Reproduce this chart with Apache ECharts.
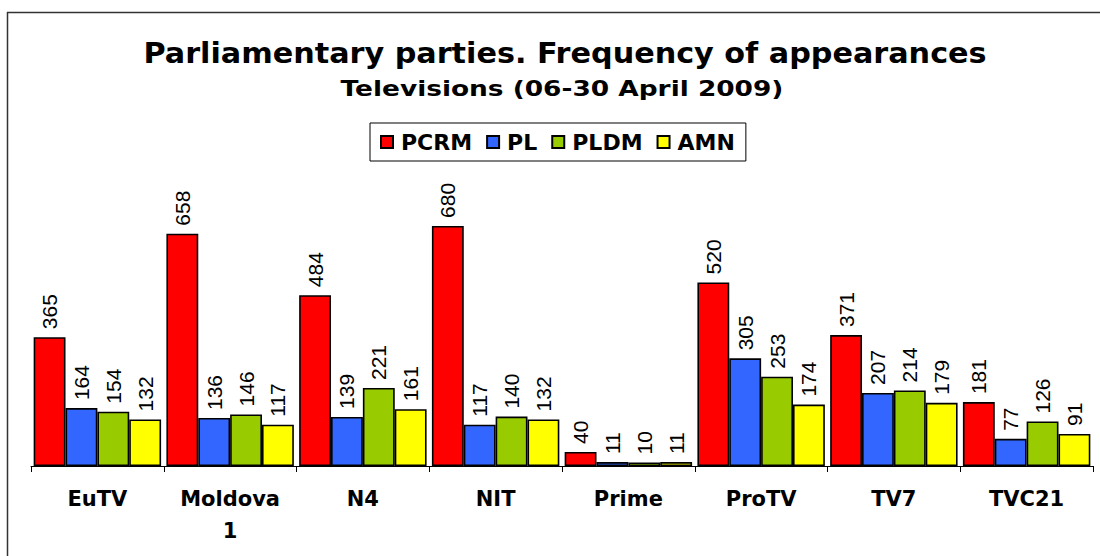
<!DOCTYPE html>
<html>
<head>
<meta charset="utf-8">
<script src="https://cdn.jsdelivr.net/npm/echarts@6/dist/echarts.min.js"></script>
<style>
  html, body { margin: 0; padding: 0; background: #fff; }
  #chart { width: 1100px; height: 556px; }
</style>
</head>
<body>
<div id="chart"></div>
<script>
const channels = ['EuTV', 'Moldova\n1', 'N4', 'NIT', 'Prime', 'ProTV', 'TV7', 'TVC21']
const parties = ['PCRM', 'PL', 'PLDM', 'AMN']
const colors = ['#ff0000', '#3366ff', '#99cc00', '#ffff00']

const pcrm = [365, 658, 484, 680, 40, 520, 371, 181]
const pl = [164, 136, 139, 117, 11, 305, 207, 77]
const pldm = [154, 146, 221, 140, 10, 253, 214, 126]
const amn = [132, 117, 161, 132, 11, 174, 179, 91]

const values = [pcrm, pl, pldm, amn]
const font = 'DejaVu Sans, Verdana, sans-serif'

// svg renderer: rotated bar labels come out right with it
const chart = echarts.init(document.getElementById('chart'), null, { renderer: 'svg' })

chart.setOption({
  animation: false,
  textStyle: { fontFamily: font },
  legend: {
    data: parties,
    top: 123,
    left: 370,
    itemWidth: 12,
    itemHeight: 12,
    itemGap: 14,
    padding: [8, 11, 8, 10],
    borderColor: '#000',
    borderWidth: 1,
    borderRadius: 0,
    icon: 'rect',
    textStyle: { fontFamily: font, fontSize: 22, fontWeight: 'bold', color: '#000', padding: [0, 0, 0, 3] }
  },
  grid: { left: 31, right: 7, top: 113, bottom: 90, containLabel: false },
  xAxis: {
    type: 'category',
    data: channels,
    axisLine: { lineStyle: { color: '#000', width: 1 } },
    axisTick: { show: true, length: 6, lineStyle: { color: '#000' } },
    axisLabel: {
      fontFamily: font, fontSize: 21, fontWeight: 'bold', color: '#000',
      margin: 17, lineHeight: 32, interval: 0
    }
  },
  yAxis: {
    type: 'value',
    min: 0,
    max: 1000,
    show: false,
    splitLine: { show: false }
  },
  series: parties.map((p, i) => ({
    name: p,
    type: 'bar',
    data: values[i],
    barGap: '0%',
    barCategoryGap: '4%',
    itemStyle: { color: colors[i], borderColor: '#000', borderWidth: 1.6 },
    label: {
      show: true,
      position: 'top',
      rotate: 90,
      align: 'left',
      verticalAlign: 'middle',
      distance: 8,
      fontFamily: 'Liberation Sans, Arial, sans-serif',
      fontSize: 21,
      color: '#000'
    }
  })),
  graphic: [
    { type: 'line', shape: { x1: 7.5, y1: 12, x2: 7.5, y2: 556 }, style: { stroke: '#333', lineWidth: 1.5 } },
    { type: 'line', shape: { x1: 7, y1: 12.5, x2: 1100, y2: 12.5 }, style: { stroke: '#333', lineWidth: 1.5 } },
    {
      type: 'text', x: 565, y: 53, scaleX: 1.08,
      style: {
        text: 'Parliamentary parties. Frequency of appearances',
        font: 'bold 28px DejaVu Sans', fill: '#000', align: 'center', verticalAlign: 'middle'
      }
    },
    {
      type: 'text', x: 562, y: 88, scaleX: 1.2,
      style: {
        text: 'Televisions (06-30 April 2009)',
        font: 'bold 22px DejaVu Sans', fill: '#000', align: 'center', verticalAlign: 'middle'
      }
    }
  ]
})
</script>
</body>
</html>
